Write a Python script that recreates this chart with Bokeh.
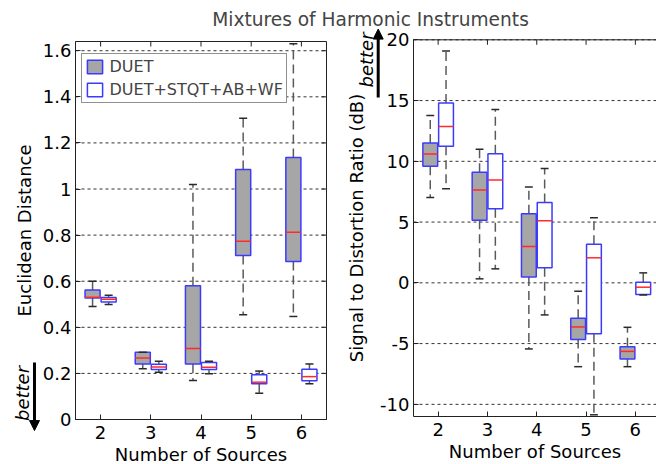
from bokeh.plotting import figure
from bokeh.models import (ColumnDataSource, FixedTicker, Legend, LegendItem,
                          Label, Arrow, NormalHead, LinearAxis, Range1d)
from bokeh.transform import dodge
from bokeh.embed import file_html
from bokeh.resources import INLINE

# ---------------- data ----------------
sources = [2, 3, 4, 5, 6]
x_tick_labels = ["2", "3", "4", "5", "6"]

ed_ticks = [0, 0.2, 0.4, 0.6, 0.8, 1, 1.2, 1.4, 1.6]
ed_tick_labels = ["0", "0.2", "0.4", "0.6", "0.8", "1", "1.2", "1.4", "1.6"]
sdr_ticks = [-10, -5, 0, 5, 10, 15, 20]
sdr_tick_labels = ["-10", "-5", "0", "5", "10", "15", "20"]

series_names = ["DUET", "DUET+STQT+AB+WF"]

# Euclidean distance - DUET
ed_duet_lo = [0.490, 0.220, 0.169, 0.454, 0.447]
ed_duet_q1 = [0.527, 0.241, 0.241, 0.711, 0.685]
ed_duet_med = [0.530, 0.267, 0.308, 0.773, 0.812]
ed_duet_q3 = [0.562, 0.292, 0.580, 1.085, 1.137]
ed_duet_hi = [0.600, 0.292, 1.020, 1.307, 1.630]
# Euclidean distance - DUET+STQT+AB+WF
ed_full_lo = [0.499, 0.205, 0.198, 0.114, 0.155]
ed_full_q1 = [0.510, 0.217, 0.217, 0.155, 0.168]
ed_full_med = [0.522, 0.228, 0.227, 0.162, 0.186]
ed_full_q3 = [0.529, 0.240, 0.247, 0.194, 0.218]
ed_full_hi = [0.539, 0.253, 0.253, 0.210, 0.241]

# Signal to Distortion Ratio (dB) - DUET
sdr_duet_lo = [7.03, 0.33, -5.44, -6.90, -6.90]
sdr_duet_q1 = [9.60, 5.14, 0.49, -4.67, -6.27]
sdr_duet_med = [10.60, 7.63, 2.99, -3.63, -5.64]
sdr_duet_q3 = [11.50, 9.09, 5.69, -2.92, -5.25]
sdr_duet_hi = [13.77, 11.00, 7.88, -0.69, -3.66]
# Signal to Distortion Ratio (dB) - DUET+STQT+AB+WF
sdr_full_lo = [7.75, 1.15, -2.64, -10.86, -1.00]
sdr_full_q1 = [11.24, 6.10, 1.24, -4.18, -0.96]
sdr_full_med = [12.86, 8.46, 5.11, 2.06, -0.36]
sdr_full_q3 = [14.80, 10.63, 6.62, 3.18, 0.05]
sdr_full_hi = [19.07, 14.26, 9.40, 5.36, 0.82]

# axis limits of the two panels
x_limits = (1.5, 6.5)
ed_limits = (0, 1.64)
sdr_limits = (-11, 20)

# ---------------- style / layout ----------------
W, H = 656, 464
FONT = "DejaVu Sans"
GREY = "#a6a6a6"
BLUE = "#3b3bff"
RED = "#ff2a2a"
WHISK = "#5a5a5a"
CAP = "#2a2a2a"
AXC = "#222222"
GRIDC = "#333333"
BOX_W = 0.30
CAP_W = 0.16
OFF = 0.16
TICK_LEN = 5  # px, inward ticks on the top / right frame edges
# plot boxes in page pixels: (left, top, right, bottom)
ED_BOX = (75, 41, 326, 419)
SDR_BOX = (413, 39.3, 659.5, 416)


def scales(box, ylim):
    return ((box[2] - box[0]) / (x_limits[1] - x_limits[0]),
            (box[3] - box[1]) / (ylim[1] - ylim[0]))


def x_range_for(box, ylim):
    sx, _ = scales(box, ylim)
    start = x_limits[0] - box[0] / sx
    return Range1d(start, start + W / sx)


def y_range_for(box, ylim):
    _, sy = scales(box, ylim)
    start = ylim[0] - (H - box[3]) / sy
    return Range1d(start, start + H / sy)


p = figure(width=W, height=H, x_range=Range1d(0, W), y_range=Range1d(0, H),
           output_backend="svg", toolbar_location=None,
           x_axis_location=None, y_axis_location=None,
           min_border=0, min_border_left=0, min_border_right=0,
           min_border_top=0, min_border_bottom=0)
p.outline_line_color = None
p.background_fill_color = "white"
p.border_fill_color = "white"
p.grid.visible = False
p.extra_x_ranges = {"edx": x_range_for(ED_BOX, ed_limits),
                    "sdrx": x_range_for(SDR_BOX, sdr_limits)}
p.extra_y_ranges = {"edy": y_range_for(ED_BOX, ed_limits),
                    "sdry": y_range_for(SDR_BOX, sdr_limits)}


def make_src(lo, q1, med, q3, hi):
    return ColumnDataSource(dict(x=sources, lo=lo, q1=q1, med=med, q3=q3, hi=hi))


def add_group(src, off, fill, xr, yr):
    kw = dict(source=src, x_range_name=xr, y_range_name=yr)
    xs = dodge("x", off)
    for a, b in (("q3", "hi"), ("q1", "lo")):
        p.segment(x0=xs, y0=a, x1=xs, y1=b, line_color=WHISK,
                  line_width=1.5, line_dash="9 5", **kw)
    box = p.vbar(x=xs, width=BOX_W, bottom="q1", top="q3",
                 fill_color=fill, line_color=BLUE, line_width=1.5, **kw)
    p.segment(x0=dodge("x", off - BOX_W / 2), y0="med",
              x1=dodge("x", off + BOX_W / 2), y1="med",
              line_color=RED, line_width=1.5, **kw)
    for f in ("hi", "lo"):
        p.segment(x0=dodge("x", off - CAP_W / 2), y0=f,
                  x1=dodge("x", off + CAP_W / 2), y1=f,
                  line_color=CAP, line_width=1.5, **kw)
    return box


def add_grid(ticks, xr, yr):
    src = ColumnDataSource(dict(y=ticks, x0=[x_limits[0]] * len(ticks),
                                x1=[x_limits[1]] * len(ticks)))
    p.segment(x0="x0", y0="y", x1="x1", y1="y", source=src, line_color=GRIDC,
              line_width=1, line_dash="3 3", x_range_name=xr, y_range_name=yr)


def add_frame_ticks(box, ylim, yticks, xr, yr, right_side):
    sx, sy = scales(box, ylim)
    top = ColumnDataSource(dict(x=sources))
    p.segment(x0="x", x1="x", y0=ylim[1], y1=ylim[1] - TICK_LEN / sy, source=top,
              line_color=AXC, line_width=1, x_range_name=xr, y_range_name=yr)
    if right_side:
        rs = ColumnDataSource(dict(y=yticks))
        p.segment(x0=x_limits[1], x1=x_limits[1] - TICK_LEN / sx, y0="y", y1="y",
                  source=rs, line_color=AXC, line_width=1,
                  x_range_name=xr, y_range_name=yr)


def style_axis(ax):
    ax.major_label_text_font = FONT
    ax.major_label_text_font_size = "18px"
    ax.major_label_text_color = "black"
    ax.axis_line_color = AXC
    ax.major_tick_line_color = AXC
    ax.major_tick_in = TICK_LEN
    ax.major_tick_out = 0
    ax.minor_tick_line_color = None
    ax.axis_label_text_font = FONT
    ax.axis_label_text_font_size = "18px"
    ax.axis_label_text_font_style = "normal"
    ax.axis_label_text_color = "black"


def add_axes(xr, yr, ylim, yticks, ylabels, ylabel, ylabel_standoff):
    xa = LinearAxis(x_range_name=xr, y_range_name=yr, fixed_location=ylim[0],
                    bounds=x_limits, ticker=FixedTicker(ticks=sources),
                    major_label_overrides=dict(zip(sources, x_tick_labels)),
                    axis_label="Number of Sources")
    style_axis(xa)
    xa.major_label_standoff = 6
    xa.axis_label_standoff = 2
    p.add_layout(xa, "below")
    ya = LinearAxis(x_range_name=xr, y_range_name=yr, fixed_location=x_limits[0],
                    bounds=ylim, ticker=FixedTicker(ticks=yticks),
                    major_label_overrides=dict(zip(yticks, ylabels)),
                    axis_label=ylabel)
    style_axis(ya)
    ya.major_label_standoff = 4
    ya.axis_label_standoff = ylabel_standoff
    p.add_layout(ya, "left")


def better_note(x_text, y_span, x_arrow, y_tail, y_tip, xr, yr):
    # the italic "better" caption is laid out as the label of a tick-less guide
    note = LinearAxis(x_range_name=xr, y_range_name=yr, fixed_location=x_text,
                      bounds=y_span, ticker=FixedTicker(ticks=[]),
                      axis_line_color=None, major_tick_line_color=None,
                      minor_tick_line_color=None, major_label_standoff=0,
                      axis_label="better", axis_label_standoff=0,
                      axis_label_text_font=FONT, axis_label_text_font_size="18px",
                      axis_label_text_font_style="italic",
                      axis_label_text_color="black")
    p.add_layout(note, "left")
    p.add_layout(Arrow(x_start=x_arrow, y_start=y_tail, x_end=x_arrow, y_end=y_tip,
                       line_width=3, line_color="black",
                       end=NormalHead(size=10, fill_color="black", line_color="black"),
                       x_range_name=xr, y_range_name=yr))


# ---------------- left: Euclidean distance ----------------
add_grid(ed_ticks, "edx", "edy")
p.quad(left=x_limits[0], right=x_limits[1], bottom=ed_limits[0], top=ed_limits[1],
       fill_color=None, line_color=AXC, line_width=1,
       x_range_name="edx", y_range_name="edy")
add_frame_ticks(ED_BOX, ed_limits, ed_ticks, "edx", "edy", True)
b1 = add_group(make_src(ed_duet_lo, ed_duet_q1, ed_duet_med, ed_duet_q3, ed_duet_hi),
               -OFF, GREY, "edx", "edy")
b2 = add_group(make_src(ed_full_lo, ed_full_q1, ed_full_med, ed_full_q3, ed_full_hi),
               OFF, "white", "edx", "edy")
add_axes("edx", "edy", ed_limits, ed_ticks, ed_tick_labels, "Euclidean Distance", 5)

legend = Legend(items=[LegendItem(label=series_names[0], renderers=[b1]),
                       LegendItem(label=series_names[1], renderers=[b2])],
                location=(80.5, H - 102.7), margin=0, padding=3, spacing=4,
                glyph_width=19, glyph_height=17, label_height=17, label_standoff=6,
                label_text_font=FONT, label_text_font_size="16px",
                border_line_color=AXC, border_line_width=1,
                background_fill_color="white", background_fill_alpha=1)
p.add_layout(legend)

better_note(0.653, (-0.009, 0.234), 0.683, 0.247, -0.048, "edx", "edy")

# ---------------- right: SDR ----------------
add_grid(sdr_ticks, "sdrx", "sdry")
p.segment(x0=x_limits[0], y0=sdr_limits[1], x1=x_limits[1], y1=sdr_limits[1],
          line_color=AXC, line_width=1, x_range_name="sdrx", y_range_name="sdry")
add_frame_ticks(SDR_BOX, sdr_limits, sdr_ticks, "sdrx", "sdry", False)
add_group(make_src(sdr_duet_lo, sdr_duet_q1, sdr_duet_med, sdr_duet_q3, sdr_duet_hi),
          -OFF, GREY, "sdrx", "sdry")
add_group(make_src(sdr_full_lo, sdr_full_q1, sdr_full_med, sdr_full_q3, sdr_full_hi),
          OFF, "white", "sdrx", "sdry")
add_axes("sdrx", "sdry", sdr_limits, sdr_ticks, sdr_tick_labels,
         "Signal to Distortion Ratio (dB)", 10)

better_note(0.745, (16.07, 20.6), 0.784, 15.26, 20.88, "sdrx", "sdry")

# ---------------- title ----------------
p.add_layout(Label(x=370, y=H - 18.6, text="Mixtures of Harmonic Instruments",
                   text_align="center", text_baseline="middle", text_font=FONT,
                   text_font_size="18.6px"))

open("out.html", "w").write(file_html(p, INLINE))
